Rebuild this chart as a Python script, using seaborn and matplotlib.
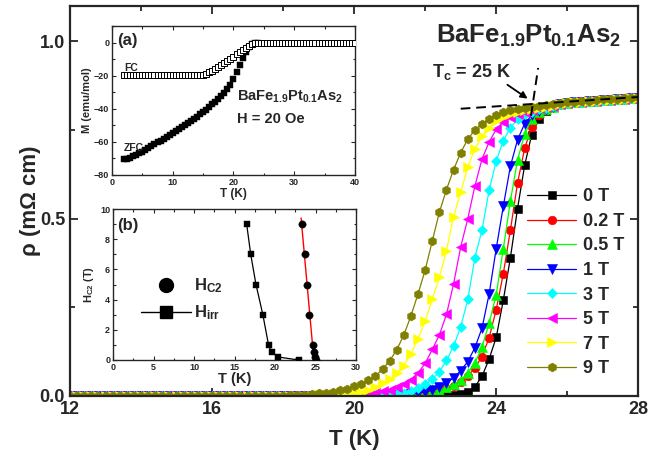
import matplotlib
matplotlib.use('Agg')
import matplotlib.pyplot as plt
import seaborn as sns
from matplotlib.lines import Line2D
from matplotlib.ticker import MultipleLocator, FormatStrFormatter

# ---------------- main panel data: rho(T) at several fields ----------------
T_K = [12.0, 12.2, 12.4, 12.6, 12.8, 13.0, 13.2, 13.4, 13.6, 13.8,
       14.0, 14.2, 14.4, 14.6, 14.8, 15.0, 15.2, 15.4, 15.6, 15.8,
       16.0, 16.2, 16.4, 16.6, 16.8, 17.0, 17.2, 17.4, 17.6, 17.8,
       18.0, 18.2, 18.4, 18.6, 18.8, 19.0, 19.2, 19.4, 19.6, 19.8,
       20.0, 20.2, 20.4, 20.6, 20.8, 21.0, 21.2, 21.4, 21.6, 21.8,
       22.0, 22.2, 22.4, 22.6, 22.8, 23.0, 23.2, 23.4, 23.6, 23.8,
       24.0, 24.2, 24.4, 24.6, 24.8, 25.0, 25.2, 25.4, 25.6, 25.8,
       26.0, 26.2, 26.4, 26.6, 26.8, 27.0, 27.2, 27.4, 27.6, 27.8,
       28.0]

rho_normal = [0.826, 0.828, 0.829, 0.831, 0.832, 0.834, 0.835, 0.836, 0.838, 0.839,
              0.841]

rho_0T = [0, 0, 0, 0, 0, 0, 0, 0, 0, 0,
          0, 0, 0, 0, 0, 0, 0, 0, 0, 0,
          0, 0, 0, 0, 0, 0, 0, 0, 0, 0,
          0, 0, 0, 0, 0, 0, 0, 0, 0, 0,
          0, 0, 0, 0, 0, 0, 0, 0, 0, 0,
          0, 0, 0, 0.001, 0.003, 0.005, 0.011, 0.026, 0.055, 0.104,
          0.165, 0.270, 0.390, 0.528, 0.650, 0.737, 0.781, 0.803, 0.816, 0.822] + rho_normal
rho_02T = [0, 0, 0, 0, 0, 0, 0, 0, 0, 0,
           0, 0, 0, 0, 0, 0, 0, 0, 0, 0,
           0, 0, 0, 0, 0, 0, 0, 0, 0, 0,
           0, 0, 0, 0, 0, 0, 0, 0, 0, 0,
           0, 0, 0, 0, 0, 0, 0, 0, 0.002, 0.004,
           0.006, 0.010, 0.015, 0.021, 0.029, 0.040, 0.056, 0.079, 0.111, 0.164,
           0.243, 0.345, 0.468, 0.600, 0.698, 0.758, 0.792, 0.806, 0.816, 0.822] + rho_normal
rho_05T = [0, 0, 0, 0, 0, 0, 0, 0, 0, 0,
           0, 0, 0, 0, 0, 0, 0, 0, 0, 0,
           0, 0, 0, 0, 0, 0, 0, 0, 0, 0,
           0, 0, 0, 0, 0, 0, 0, 0, 0, 0,
           0, 0, 0, 0, 0, 0, 0, 0, 0.002, 0.004,
           0.006, 0.011, 0.017, 0.024, 0.033, 0.045, 0.065, 0.092, 0.138, 0.205,
           0.285, 0.415, 0.550, 0.665, 0.738, 0.780, 0.800, 0.808, 0.816, 0.822] + rho_normal
rho_1T = [0, 0, 0, 0, 0, 0, 0, 0, 0, 0,
          0, 0, 0, 0, 0, 0, 0, 0, 0, 0,
          0, 0, 0, 0, 0, 0, 0, 0, 0, 0,
          0, 0, 0, 0, 0, 0, 0, 0, 0, 0,
          0, 0, 0, 0, 0, 0.002, 0.003, 0.004, 0.005, 0.008,
          0.012, 0.018, 0.026, 0.037, 0.051, 0.071, 0.097, 0.136, 0.191, 0.287,
          0.415, 0.535, 0.648, 0.722, 0.768, 0.792, 0.803, 0.810, 0.816, 0.822] + rho_normal
rho_3T = [0, 0, 0, 0, 0, 0, 0, 0, 0, 0,
          0, 0, 0, 0, 0, 0, 0, 0, 0, 0,
          0, 0, 0, 0, 0, 0, 0, 0, 0, 0,
          0, 0, 0, 0, 0, 0, 0, 0, 0, 0,
          0, 0, 0.002, 0.003, 0.004, 0.005, 0.006, 0.009, 0.015, 0.023,
          0.033, 0.048, 0.068, 0.100, 0.140, 0.195, 0.272, 0.390, 0.468, 0.580,
          0.662, 0.720, 0.757, 0.780, 0.794, 0.802, 0.808, 0.813, 0.817, 0.822] + rho_normal
rho_5T = [0, 0, 0, 0, 0, 0, 0, 0, 0, 0,
          0, 0, 0, 0, 0, 0, 0, 0, 0, 0,
          0, 0, 0, 0, 0, 0, 0, 0, 0, 0,
          0, 0, 0, 0, 0, 0, 0, 0, 0.002, 0.003,
          0.004, 0.005, 0.006, 0.008, 0.013, 0.018, 0.025, 0.035, 0.046, 0.065,
          0.092, 0.131, 0.172, 0.230, 0.316, 0.420, 0.500, 0.592, 0.668, 0.716,
          0.752, 0.773, 0.787, 0.796, 0.802, 0.807, 0.811, 0.815, 0.818, 0.822] + rho_normal
rho_7T = [0, 0, 0, 0, 0, 0, 0, 0, 0, 0,
          0, 0, 0, 0, 0, 0, 0, 0, 0, 0,
          0, 0, 0, 0, 0, 0, 0, 0, 0, 0,
          0, 0, 0, 0, 0, 0.002, 0.003, 0.004, 0.005, 0.006,
          0.008, 0.011, 0.017, 0.025, 0.036, 0.047, 0.064, 0.085, 0.119, 0.161,
          0.212, 0.272, 0.335, 0.410, 0.505, 0.575, 0.645, 0.697, 0.732, 0.757,
          0.775, 0.787, 0.795, 0.801, 0.806, 0.810, 0.813, 0.816, 0.819, 0.823] + rho_normal
rho_9T = [0, 0, 0, 0, 0, 0, 0, 0, 0, 0,
          0, 0, 0, 0, 0, 0, 0, 0, 0, 0,
          0, 0, 0, 0, 0, 0, 0, 0, 0, 0,
          0.001, 0.002, 0.003, 0.004, 0.005, 0.007, 0.009, 0.012, 0.016, 0.020,
          0.027, 0.035, 0.045, 0.057, 0.075, 0.099, 0.130, 0.172, 0.226, 0.288,
          0.355, 0.437, 0.518, 0.582, 0.638, 0.686, 0.724, 0.750, 0.768, 0.782,
          0.793, 0.800, 0.805, 0.809, 0.813, 0.816, 0.819, 0.821, 0.824, 0.826,
          0.828, 0.830, 0.831, 0.833, 0.834, 0.836, 0.837, 0.838, 0.840, 0.841,
          0.843]

field_labels = ['0 T', '0.2 T', '0.5 T', '1 T', '3 T', '5 T', '7 T', '9 T']
field_rho = [rho_0T, rho_02T, rho_05T, rho_1T, rho_3T, rho_5T, rho_7T, rho_9T]
field_colors = ['#000000', '#FF0000', '#00FF00', '#0000FF', '#00FFFF', '#FF00FF', '#FFFF00', '#808000']
field_markers = ['s', 'o', '^', 'v', 'D', '<', '>', 'h']
field_msizes = [5.4, 6.2, 7.0, 7.0, 4.8, 7.0, 7.0, 6.4]

# guide lines for Tc (dashed) and arrow
tan_T = [23.0, 28.0]
tan_rho = [0.810, 0.843]
vert_T = [25.18, 24.98]
vert_rho = [0.925, 0.790]

# ---------------- inset (a): M(T) ----------------
M_T = [2.0, 2.5, 3.0, 3.5, 4.0, 4.5, 5.0, 5.5, 6.0, 6.5,
       7.0, 7.5, 8.0, 8.5, 9.0, 9.5, 10.0, 10.5, 11.0, 11.5,
       12.0, 12.5, 13.0, 13.5, 14.0, 14.5, 15.0, 15.5, 16.0, 16.5,
       17.0, 17.5, 18.0, 18.5, 19.0, 19.5, 20.0, 20.5, 21.0, 21.5,
       22.0, 22.5, 23.0, 23.5, 24.0, 24.5, 25.0, 25.5, 26.0, 26.5,
       27.0, 27.5, 28.0, 28.5, 29.0, 29.5, 30.0, 30.5, 31.0, 31.5,
       32.0, 32.5, 33.0, 33.5, 34.0, 34.5, 35.0, 35.5, 36.0, 36.5,
       37.0, 37.5, 38.0, 38.5, 39.0, 39.5, 40.0]
M_FC = [-19.8, -19.8, -19.8, -19.8, -19.8, -19.8, -19.8, -19.8, -19.8, -19.8,
        -19.8, -19.8, -19.8, -19.8, -19.8, -19.8, -19.8, -19.8, -19.8, -19.8,
        -19.8, -19.8, -19.8, -19.8, -19.8, -19.6, -19.3, -18.8, -18.0, -17.0,
        -15.9, -14.8, -13.6, -12.4, -11.1, -9.8, -8.5, -7.2, -5.9, -4.6,
        -3.3, -2.1, -1.0, -0.3, 0.0, 0.0, 0.0, 0.0, 0.0, 0.0,
        0.0, 0.0, 0.0, 0.0, 0.0, 0.0, 0.0, 0.0, 0.0, 0.0,
        0.0, 0.0, 0.0, 0.0, 0.0, 0.0, 0.0, 0.0, 0.0, 0.0,
        0.0, 0.0, 0.0, 0.0, 0.0, 0.0, 0.0]
M_ZFC = [-70.5, -70.2, -69.6, -68.8, -68.0, -67.0, -66.0, -65.0, -63.8, -62.6,
         -61.5, -60.3, -59.2, -58.0, -57.0, -55.8, -54.7, -53.5, -52.4, -51.2,
         -50.0, -48.7, -47.4, -46.1, -44.8, -43.4, -42.0, -40.5, -39.0, -37.4,
         -35.7, -33.9, -32.0, -30.3, -28.3, -25.8, -22.0, -17.8, -13.6, -9.6,
         -5.6, -2.6, -0.9, -0.2, 0.0]

# ---------------- inset (b): H-T phase diagram ----------------
Hc2_T = [23.33, 23.70, 23.95, 24.25, 24.65, 24.82, 24.90, 25.00]
Hc2_H = [9.0, 7.0, 5.0, 3.0, 1.0, 0.5, 0.2, 0.0]
Hc2_fit_T = [23.22, 24.80]
Hc2_fit_H = [9.4, 0.0]
Hirr_T = [16.5, 17.0, 17.65, 18.5, 19.2, 19.6, 20.4, 22.9]
Hirr_H = [9.0, 7.0, 5.0, 3.0, 1.0, 0.5, 0.2, 0.0]

# ---------------- style ----------------
sns.set_style('ticks')
plt.rcParams['font.family'] = ['Liberation Sans', 'DejaVu Sans']
plt.rcParams['font.weight'] = 'bold'
plt.rcParams['axes.labelweight'] = 'bold'
plt.rcParams['mathtext.fontset'] = 'custom'
plt.rcParams['mathtext.rm'] = 'Liberation Sans:bold'
plt.rcParams['mathtext.it'] = 'Liberation Sans:bold'
plt.rcParams['mathtext.bf'] = 'Liberation Sans:bold'
plt.rcParams['mathtext.default'] = 'rm'

fig = plt.figure(figsize=(6.48, 4.53), dpi=100)
ax = fig.add_axes([0.108, 0.126, 0.877, 0.861])

for lab, rho, col, mk, ms in zip(field_labels, field_rho, field_colors, field_markers, field_msizes):
    sns.lineplot(x=T_K, y=rho, ax=ax, color=col, marker=mk, markersize=ms,
                 markeredgecolor=col, markeredgewidth=0.4, linewidth=0.9,
                 label=lab, estimator=None, errorbar=None, sort=False)

sns.lineplot(x=tan_T, y=tan_rho, ax=ax, color='black', linewidth=1.4,
             linestyle=(0, (5, 3)), estimator=None, errorbar=None, legend=False, zorder=5)
sns.lineplot(x=vert_T, y=vert_rho, ax=ax, color='black', linewidth=1.4,
             linestyle=(0, (5, 3)), estimator=None, errorbar=None, legend=False, zorder=5)
ax.annotate('', xy=(24.95, 0.834), xytext=(24.25, 0.882),
            arrowprops=dict(arrowstyle='-|>', color='black', lw=1.3, mutation_scale=10))
ax.text(22.2, 0.900, 'T$_c$ = 25 K', fontsize=13, fontweight='bold', ha='left', va='baseline')
ax.text(22.3, 0.995, 'BaFe$_{1.9}$Pt$_{0.1}$As$_2$', fontsize=18.5, fontweight='bold',
        ha='left', va='baseline')

ax.set_xlim(12, 28)
ax.set_ylim(0, 1.1)
ax.xaxis.set_major_locator(MultipleLocator(4))
ax.xaxis.set_minor_locator(MultipleLocator(2))
ax.yaxis.set_major_locator(MultipleLocator(0.5))
ax.yaxis.set_minor_locator(MultipleLocator(0.25))
ax.yaxis.set_major_formatter(FormatStrFormatter('%.1f'))
ax.tick_params(which='both', direction='in', top=True, right=True, width=1.3, labelsize=13)
ax.tick_params(which='major', length=6)
ax.tick_params(which='minor', length=3.5)
for s in ax.spines.values():
    s.set_linewidth(1.6)
ax.set_xlabel('T (K)', fontsize=16, fontweight='bold', labelpad=8)
ax.set_ylabel('ρ (mΩ cm)', fontsize=16, fontweight='bold', labelpad=-1)

h, l = ax.get_legend_handles_labels()
ax.legend(h, l, loc='center left', bbox_to_anchor=(0.805, 0.29), frameon=False,
          prop={'weight': 'bold', 'size': 13}, handlelength=2.7, handletextpad=0.4,
          labelspacing=0.42, borderpad=0, borderaxespad=0)

# ---------------- inset (a) ----------------
axa = fig.add_axes([0.1728, 0.6137, 0.375, 0.3289])
sns.scatterplot(x=M_T[:len(M_ZFC)], y=M_ZFC, ax=axa, marker='s', s=14, color='black',
                edgecolor='black', linewidth=0.3, zorder=3)
sns.scatterplot(x=M_T, y=M_FC, ax=axa, marker='s', s=13, facecolor='white',
                edgecolor='black', linewidth=0.7, zorder=4)
axa.set_xlim(0, 40)
axa.set_ylim(-80, 10)
axa.xaxis.set_major_locator(MultipleLocator(10))
axa.xaxis.set_minor_locator(MultipleLocator(5))
axa.yaxis.set_major_locator(MultipleLocator(20))
axa.yaxis.set_minor_locator(MultipleLocator(10))
axa.tick_params(which='both', direction='in', top=True, right=True, width=0.8, labelsize=6.5, pad=2)
axa.tick_params(which='major', length=3)
axa.tick_params(which='minor', length=1.8)
for s in axa.spines.values():
    s.set_linewidth(1.0)
axa.set_xlabel('T (K)', fontsize=8.5, labelpad=1)
axa.set_ylabel('M (emu/mol)', fontsize=8, labelpad=1)
axa.text(0.9, 1.5, '(a)', fontsize=12, fontweight='bold', ha='left', va='center')
axa.text(2.0, -15.5, 'FC', fontsize=7.5, fontweight='bold', ha='left', va='center')
axa.text(2.0, -63.5, 'ZFC', fontsize=7.5, fontweight='bold', ha='left', va='center')
axa.text(20.5, -32.5, 'BaFe$_{1.9}$Pt$_{0.1}$As$_2$', fontsize=10.5, fontweight='bold',
         ha='left', va='center')
axa.text(20.5, -46.0, 'H = 20 Oe', fontsize=10.5, fontweight='bold', ha='left', va='center')

# ---------------- inset (b) ----------------
axb = fig.add_axes([0.1744, 0.2053, 0.375, 0.3333])
sns.lineplot(x=Hc2_fit_T, y=Hc2_fit_H, ax=axb, color='red', linewidth=1.0,
             estimator=None, errorbar=None, legend=False, zorder=2)
sns.lineplot(x=Hirr_T, y=Hirr_H, ax=axb, color='black', linewidth=0.9, marker='s',
             markersize=4.2, markeredgecolor='black', markeredgewidth=0.3,
             estimator=None, errorbar=None, legend=False, sort=False, zorder=3)
sns.scatterplot(x=Hc2_T, y=Hc2_H, ax=axb, marker='o', s=28, color='black',
                edgecolor='black', linewidth=0.3, zorder=4)
axb.set_xlim(0, 30)
axb.set_ylim(0, 10)
axb.xaxis.set_major_locator(MultipleLocator(5))
axb.xaxis.set_minor_locator(MultipleLocator(2.5))
axb.yaxis.set_major_locator(MultipleLocator(2))
axb.yaxis.set_minor_locator(MultipleLocator(1))
axb.tick_params(which='both', direction='in', top=True, right=True, width=0.8, labelsize=6.5, pad=2)
axb.tick_params(which='major', length=3)
axb.tick_params(which='minor', length=1.8)
for s in axb.spines.values():
    s.set_linewidth(1.0)
axb.set_xlabel('T (K)', fontsize=10.5, labelpad=0)
axb.set_ylabel('H$_{C2}$ (T)', fontsize=8, labelpad=3)
axb.text(0.5, 8.9, '(b)', fontsize=12, fontweight='bold', ha='left', va='center')
hb = [Line2D([], [], color='black', marker='o', linestyle='none', markersize=10),
      Line2D([], [], color='black', marker='s', linestyle='-', linewidth=1.0, markersize=9)]
axb.legend(hb, ['H$_{C2}$', 'H$_{irr}$'], loc='center left', bbox_to_anchor=(0.115, 0.40),
           frameon=False, prop={'weight': 'bold', 'size': 12}, handlelength=3.0,
           handletextpad=0.2, labelspacing=0.5, borderpad=0, borderaxespad=0)

fig.savefig('out.png', dpi=100)
